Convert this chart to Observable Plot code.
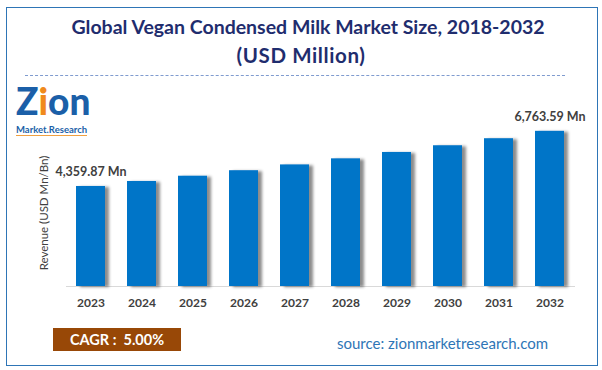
<!DOCTYPE html>
<html>
<head>
<meta charset="utf-8">
<script src="https://cdn.jsdelivr.net/npm/d3@7"></script>
<script src="https://cdn.jsdelivr.net/npm/@observablehq/plot@0.6"></script>
<style>
  html, body { margin: 0; padding: 0; background: #fff; }
  #frame { position: relative; width: 602px; height: 370px; background: #fff; overflow: hidden; font-family: Lato, "Open Sans", sans-serif; }
  .abs { position: absolute; }
  #border { left: 6px; top: 7px; width: 590px; height: 357px; border: 1.5px solid #2e75b6; }
  #title { left: 0; top: 13px; width: 602px; text-align: center; color: #1f2d6e; font-weight: bold; font-size: 19.5px; line-height: 28px; }
  #title .l1 { padding-left: 14px; }
  #title .l2 { font-size: 20.5px; letter-spacing: 0.6px; }
  #dash { left: 25px; top: 75px; width: 540px; border-top: 1px dashed #7f9bcf; }
  #logo { left: 16px; top: 84px; }
  #logo .big { font-size: 37px; font-weight: 900; color: #1b5fa8; line-height: 33px; letter-spacing: 0px; }
  #logo .big span { color: #f08a1c; }
  #logo .small { font-size: 9.5px; font-weight: bold; color: #1b5fa8; line-height: 10px; border-bottom: 1.5px solid #f0a040; display: inline-block; }
  #ylabel { left: 43px; top: 213px; transform: translate(-50%, -50%) rotate(-90deg); white-space: nowrap; font-size: 11.5px; color: #404040; }
  #chart { left: 0; top: 90px; }
  #cagr { left: 53px; top: 328px; width: 128px; height: 23px; background: #984807; color: #fff; font-weight: bold; font-size: 14.5px; line-height: 23px; text-align: center; white-space: pre; }
  #source { left: 337px; top: 334px; color: #2e75b6; font-size: 15px; line-height: 18px; white-space: nowrap; }
</style>
</head>
<body>
<div id="frame">
  <div id="border" class="abs"></div>
  <div id="title" class="abs"><div class="l1"></div><div class="l2"></div></div>
  <div id="dash" class="abs"></div>
  <div id="logo" class="abs"><div class="big">Z<span>i</span>on</div><div class="small">Market.Research</div></div>
  <div id="ylabel" class="abs"></div>
  <div id="chart" class="abs"></div>
  <div id="cagr" class="abs"></div>
  <div id="source" class="abs"></div>
</div>
<script>
const titleLines = ["Global Vegan Condensed Milk Market Size, 2018-2032", "(USD Million)"];
const yAxisLabel = "Revenue (USD Mn/Bn)";
const years = ["2023", "2024", "2025", "2026", "2027", "2028", "2029", "2030", "2031", "2032"];
const revenue = [4359.87, 4577.86, 4806.76, 5047.10, 5299.45, 5564.42, 5842.64, 6134.77, 6441.51, 6763.59];
const annotatedYears = ["2023", "2032"];
const annotationLabels = ["4,359.87 Mn", "6,763.59 Mn"];
const cagrText = "CAGR :  5.00%";
const sourceText = "source: zionmarketresearch.com";

document.querySelector("#title .l1").textContent = titleLines[0];
document.querySelector("#title .l2").textContent = titleLines[1];
document.getElementById("ylabel").textContent = yAxisLabel;
document.getElementById("cagr").textContent = cagrText;
document.getElementById("source").textContent = sourceText;

const data = years.map((y, i) => ({year: y, value: revenue[i]}));
const notes = annotatedYears.map((y, i) => ({year: y, value: revenue[years.indexOf(y)], label: annotationLabels[i]}));

const chart = Plot.plot({
  width: 602,
  height: 225,
  marginLeft: 66,
  marginRight: 27,
  marginTop: 35.4,
  marginBottom: 29,
  style: {fontFamily: "Lato, 'Open Sans', sans-serif", fontSize: "12px", fontWeight: "bold", color: "#404040", background: "transparent", overflow: "visible"},
  x: {type: "band", domain: years, paddingInner: 0.43, paddingOuter: 0.205, tickSize: 0, tickPadding: 12, label: null},
  y: {domain: [0, 7000], axis: null},
  marks: [
    Plot.ruleY([0], {stroke: "#d9d9d9", strokeWidth: 1.2}),
    Plot.barY(data, {x: "year", y: "value", fill: "#0474c8"}),
    Plot.text(notes, {x: "year", y: "value", text: "label", dy: -14, fontWeight: "bold", fontSize: 12.5, fill: "#404040"})
  ]
});
document.getElementById("chart").appendChild(chart);

// soft shadow to the right of each bar
const ns = "http://www.w3.org/2000/svg";
const defs = document.createElementNS(ns, "defs");
const filter = document.createElementNS(ns, "filter");
filter.setAttribute("id", "barShadow");
filter.setAttribute("x", "-20%"); filter.setAttribute("y", "-10%");
filter.setAttribute("width", "160%"); filter.setAttribute("height", "120%");
const fe = document.createElementNS(ns, "feDropShadow");
fe.setAttribute("dx", "4"); fe.setAttribute("dy", "1");
fe.setAttribute("stdDeviation", "1.6");
fe.setAttribute("flood-color", "#000"); fe.setAttribute("flood-opacity", "0.45");
filter.appendChild(fe); defs.appendChild(filter);
chart.insertBefore(defs, chart.firstChild);
chart.querySelectorAll('g[aria-label="bar"] rect').forEach(r => r.setAttribute("filter", "url(#barShadow)"));
</script>
</body>
</html>
